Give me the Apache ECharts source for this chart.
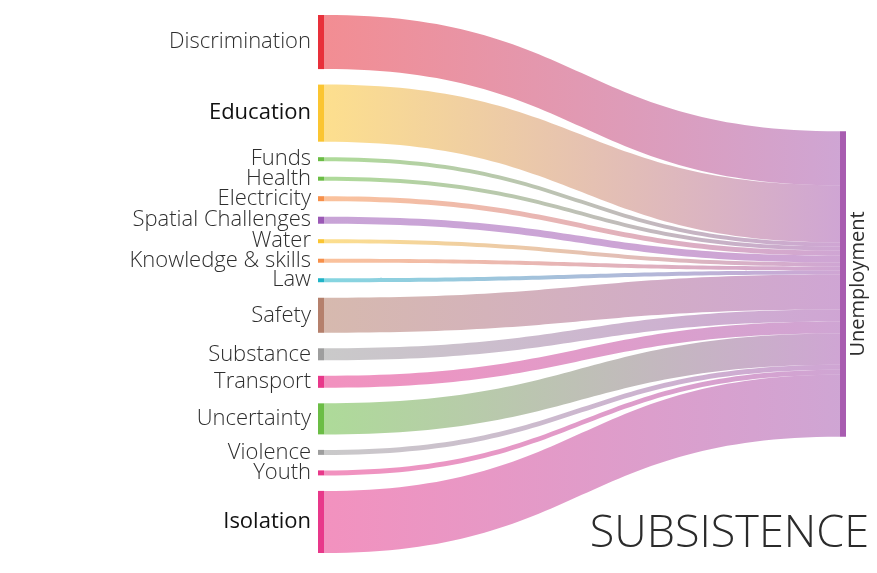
<!DOCTYPE html>
<html>
<head>
<meta charset="utf-8">
<script src="https://cdn.jsdelivr.net/npm/echarts@6/dist/echarts.min.js"></script>
<style>
  html, body { margin: 0; padding: 0; background: #ffffff; }
  #chart { width: 877px; height: 573px; }
</style>
</head>
<body>
<div id="chart"></div>
<script>
// Barriers feeding into unemployment (subsistence needs)
const sources = [
  'Discrimination', 'Education', 'Funds', 'Health', 'Electricity',
  'Spatial Challenges', 'Water', 'Knowledge & skills', 'Law', 'Safety',
  'Substance', 'Transport', 'Uncertainty', 'Violence', 'Youth', 'Isolation'
];
const flows = [54, 57, 4, 4, 5, 7, 4, 4, 4, 35, 12, 12, 31, 5, 5, 62];
const sourceColors = [
  '#e8303a', '#fbc531', '#6bbd45', '#6bbd45', '#f7904a',
  '#9b59b6', '#fbc531', '#f7904a', '#20b4c8', '#b5806c',
  '#9e9e9e', '#e8388a', '#6bbd45', '#9e9e9e', '#e8388a', '#e8388a'
];
const strongLabels = ['Education', 'Isolation'];
const target = 'Unemployment';
const targetColor = '#a85cb0';
const caption = 'SUBSISTENCE';

// Layout settings
const W = 877, H = 573;
const TOP = 15, BOTTOM = 20, LEFT = 318, RIGHT = 31;
const NODE_GAP = 15.5;
const FONT = '"Open Sans", Lato, sans-serif';

// Centre the single right-hand node within the layout band,
// using the same value-to-pixel scale the sankey layout applies.
const bandH = H - TOP - BOTTOM;
const total = flows.reduce((a, b) => a + b, 0);
const ky = (bandH - (sources.length - 1) * NODE_GAP) / total;
const targetLocalY = (bandH - total * ky) / 2 / bandH;

const nodes = sources.map((name, i) => ({
  name,
  itemStyle: { color: sourceColors[i] },
  label: {
    position: 'left',
    distance: 7,
    color: strongLabels.includes(name) ? '#111111' : '#2e2e2e',
    fontWeight: strongLabels.includes(name) ? 400 : 300
  }
}));
nodes.push({
  name: target,
  localY: targetLocalY,
  itemStyle: { color: targetColor },
  label: {
    position: 'right',
    rotate: 90,
    align: 'center',
    verticalAlign: 'top',
    distance: 2,
    color: '#2e2e2e',
    fontWeight: 400,
    fontSize: 20
  }
});

const links = sources.map((name, i) => ({
  source: name,
  target: target,
  value: flows[i]
}));

const chart = echarts.init(document.getElementById('chart'), null, { renderer: 'canvas' });
chart.setOption({
  backgroundColor: '#ffffff',
  animation: false,
  textStyle: { fontFamily: FONT },
  graphic: [{
    type: 'text',
    right: 8,
    bottom: 16,
    style: {
      text: caption,
      font: '300 45px ' + FONT,
      fill: '#2b2b2b'
    }
  }],
  series: [{
    type: 'sankey',
    left: LEFT,
    right: RIGHT,
    top: TOP,
    bottom: BOTTOM,
    nodeWidth: 6,
    nodeGap: NODE_GAP,
    layoutIterations: 0,
    draggable: false,
    emphasis: { disabled: true },
    label: {
      fontFamily: FONT,
      fontSize: 22,
      color: '#2e2e2e'
    },
    lineStyle: {
      color: 'gradient',
      opacity: 0.55,
      curveness: 0.5
    },
    itemStyle: { borderWidth: 0 },
    data: nodes,
    links: links
  }]
});
</script>
</body>
</html>
